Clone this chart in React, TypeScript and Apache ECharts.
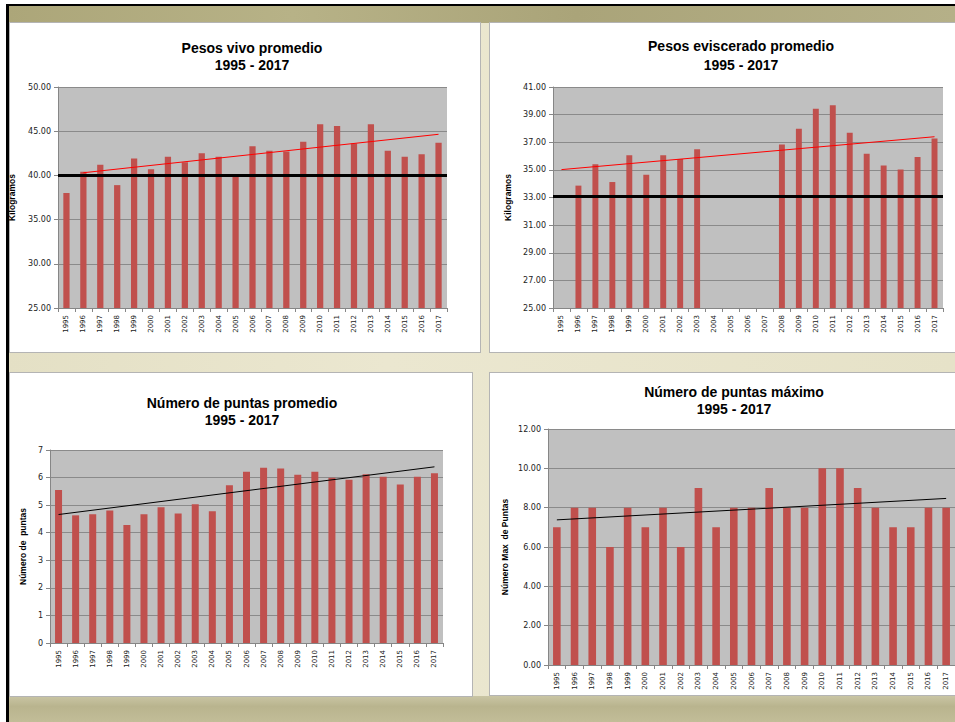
import React, { useEffect, useRef } from "react";
import * as echarts from "echarts";

const years = ["1995","1996","1997","1998","1999","2000","2001","2002","2003","2004","2005","2006","2007","2008","2009","2010","2011","2012","2013","2014","2015","2016","2017"];

const pesoVivo = [38.0, 40.4, 41.2, 38.9, 41.9, 40.7, 42.1, 41.5, 42.5, 42.1, 40.0, 43.3, 42.8, 42.7, 43.8, 45.8, 45.6, 43.6, 45.8, 42.8, 42.1, 42.4, 43.7];
const pesoVivoTrend = [["1996", 40.3], ["2017", 44.65]];
const pesoVivoRef = 40;
const pesoVivoTicks = [25, 50, 5];

const pesoEviscerado = [null, 33.86, 35.4, 34.12, 36.05, 34.65, 36.05, 35.79, 36.49, null, null, null, null, 36.83, 37.98, 39.43, 39.67, 37.69, 36.17, 35.31, 35.02, 35.93, 37.28];
const pesoEvisceradoTrend = [["1995", 35.02], ["2017", 37.4]];
const pesoEvisceradoRef = 33.1;
const pesoEvisceradoTicks = [25, 41, 2];

const puntasPromedio = [5.55, 4.63, 4.67, 4.81, 4.28, 4.67, 4.92, 4.7, 5.03, 4.78, 5.72, 6.21, 6.36, 6.33, 6.1, 6.21, 5.99, 5.92, 6.12, 6.03, 5.75, 6.03, 6.16];
const puntasPromedioTrend = [["1995", 4.66], ["2017", 6.39]];
const puntasPromedioTicks = [0, 7, 1];

const puntasMaximo = [7, 8, 8, 6, 8, 7, 8, 6, 9, 7, 8, 8, 9, 8, 8, 10, 10, 9, 8, 7, 7, 8, 8];
const puntasMaximoTrend = [["1995", 7.38], ["2017", 8.47]];
const puntasMaximoTicks = [0, 12, 2];

const panels = [
  { title: "Pesos vivo promedio\n1995 - 2017", tx: 252, ty: 39, lh: 17, grid: { left: 58, top: 87, width: 389, height: 221 }, data: pesoVivo, trend: pesoVivoTrend, trendColor: "#ff0000", ref: pesoVivoRef, ticks: pesoVivoTicks, dec: 2, name: "Kilogramos", nameGap: 42, barWidth: "37%" },
  { title: "Pesos eviscerado promedio\n1995 - 2017", tx: 741, ty: 36, lh: 19, grid: { left: 553, top: 87, width: 390, height: 221 }, data: pesoEviscerado, trend: pesoEvisceradoTrend, trendColor: "#ff0000", ref: pesoEvisceradoRef, ticks: pesoEvisceradoTicks, dec: 2, name: "Kilogramos", nameGap: 41, barWidth: "35%" },
  { title: "Número de puntas promedio\n1995 - 2017", tx: 242, ty: 394, lh: 17, grid: { left: 50, top: 450, width: 393, height: 193 }, data: puntasPromedio, trend: puntasPromedioTrend, trendColor: "#000000", ref: null, ticks: puntasPromedioTicks, dec: 0, name: "Número de  puntas", nameGap: 23, barWidth: "41%" },
  { title: "Número de puntas máximo\n1995 - 2017", tx: 734, ty: 383, lh: 17, grid: { left: 548, top: 429, width: 407, height: 236 }, data: puntasMaximo, trend: puntasMaximoTrend, trendColor: "#000000", ref: null, ticks: puntasMaximoTicks, dec: 2, name: "Número Max  de Puntas", nameGap: 39, barWidth: "43%" },
];

const axisGrey = "#868686";

export default function App() {
  const ref = useRef<HTMLDivElement>(null);
  useEffect(() => {
    if (!ref.current) return;
    const chart = echarts.init(ref.current, null, { renderer: "svg" });
    const option: any = {
      animation: false,
      backgroundColor: "transparent",
      graphic: panels.map((p) => ({
        type: "text",
        x: p.tx,
        y: p.ty,
        z: 100,
        style: {
          text: p.title,
          align: "center",
          verticalAlign: "top",
          font: 'bold 14px "Liberation Sans", Arial, sans-serif',
          lineHeight: p.lh,
          fill: "#000",
        },
      })),
      grid: panels.map((p) => ({ ...p.grid, show: true, backgroundColor: "#c0c0c0", borderWidth: 0, containLabel: false })),
      xAxis: panels.map((p, i) => ({
        type: "category",
        gridIndex: i,
        data: years,
        boundaryGap: true,
        axisLine: { show: true, lineStyle: { color: axisGrey, width: 1 } },
        axisTick: { show: true, length: 4, lineStyle: { color: axisGrey } },
        axisLabel: { rotate: 90, interval: 0, fontSize: 7, color: "#222", margin: 7, fontFamily: '"DejaVu Sans", sans-serif' },
        splitLine: { show: false },
      })),
      yAxis: panels.map((p, i) => ({
        type: "value",
        gridIndex: i,
        min: p.ticks[0],
        max: p.ticks[1],
        interval: p.ticks[2],
        axisLine: { show: true, lineStyle: { color: axisGrey, width: 1 } },
        axisTick: { show: true, length: 4, lineStyle: { color: axisGrey } },
        splitLine: { show: true, lineStyle: { color: "#8a8a8a", width: 1 } },
        axisLabel: { fontSize: 8, color: "#222", margin: 7, fontFamily: '"DejaVu Sans", sans-serif', formatter: (v: number) => v.toFixed(p.dec) },
        name: p.name,
        nameLocation: "middle",
        nameGap: p.nameGap,
        nameRotate: 90,
        nameTextStyle: { fontWeight: "bold", fontSize: 8.5, color: "#000", fontFamily: '"Liberation Sans", Arial, sans-serif' },
      })),
      series: panels.flatMap((p, i) => {
        const bar: any = {
          type: "bar",
          xAxisIndex: i,
          yAxisIndex: i,
          data: p.data,
          barWidth: p.barWidth,
          clip: true,
          itemStyle: { color: "#c0504d" },
        };
        if (p.ref !== null) {
          bar.markLine = {
            silent: true,
            symbol: "none",
            label: { show: false },
            lineStyle: { color: "#000", width: 3, type: "solid" },
            data: [{ yAxis: p.ref }],
          };
        }
        const line = {
          type: "line",
          xAxisIndex: i,
          yAxisIndex: i,
          data: p.trend,
          symbol: "none",
          connectNulls: true,
          lineStyle: { color: p.trendColor, width: 1 },
          z: 5,
        };
        return [bar, line];
      }),
    };
    chart.setOption(option);
    return () => chart.dispose();
  }, []);

  const panelStyle = (left: number, top: number, w: number, h: number): React.CSSProperties => ({
    position: "absolute", left, top, width: w, height: h, background: "#fff", border: "1px solid #b4b4b4", boxSizing: "border-box",
  });

  return (
    <div style={{ position: "fixed", left: 0, top: 0, width: 955, height: 722, background: "#fff", overflow: "hidden" }}>
      <div style={{ position: "absolute", left: 8, top: 6, width: 947, height: 716, background: "linear-gradient(90deg, #e4e0c5 0%, #ebe7d0 40%, #e6e2c8 100%)" }} />
      <div style={{ position: "absolute", left: 8, top: 6, width: 947, height: 17, background: "linear-gradient(90deg, #aca679 0%, #b7b287 30%, #aaa479 60%, #b5b088 100%)" }} />
      <div style={{ position: "absolute", left: 8, top: 696, width: 947, height: 26, background: "linear-gradient(180deg, #c9c5a4 0%, #b9b48e 40%, #c2bd98 100%)" }} />
      <div style={{ position: "absolute", left: 6, top: 4, width: 949, height: 2, background: "#000" }} />
      <div style={{ position: "absolute", left: 6, top: 4, width: 3, height: 718, background: "#000" }} />
      <div style={panelStyle(9, 22, 472, 331)} />
      <div style={panelStyle(489, 22, 470, 331)} />
      <div style={panelStyle(9, 372, 464, 325)} />
      <div style={panelStyle(489, 372, 470, 324)} />
      <div ref={ref} style={{ position: "absolute", left: 0, top: 0, width: 955, height: 722 }} />
    </div>
  );
}
